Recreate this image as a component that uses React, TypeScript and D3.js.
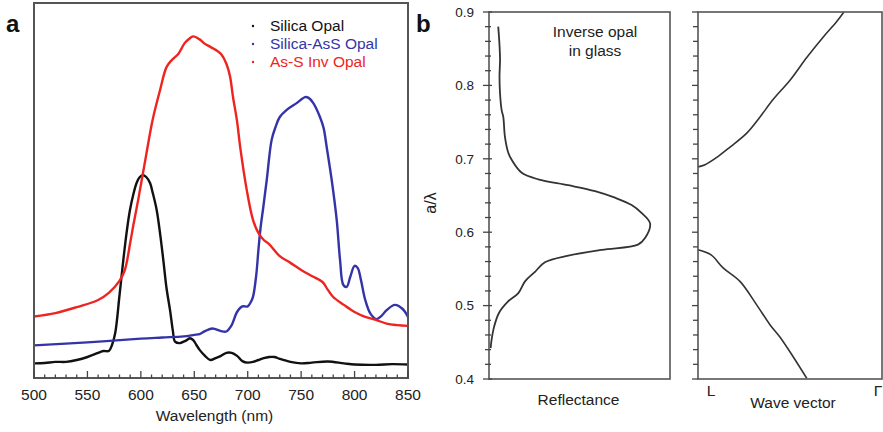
import React from "react";
import * as d3 from "d3";

// ---------- Panel a data (wavelength nm, intensity a.u.) ----------
const silicaOpalWl = [500, 510, 520, 530, 540, 550, 560, 565, 570, 573, 576, 580, 583.6, 587, 589.8, 593, 596, 599, 602, 605, 608.6, 611, 614.8, 618, 621, 624, 627.3, 630, 632, 636.6, 640, 643, 646, 649, 652, 655, 660, 665, 670, 675, 680, 685, 690, 695, 700, 705, 710, 715, 720, 725, 730, 740, 750, 760, 775, 790, 800, 820, 835, 850];
const silicaOpalI = [3.9, 4.0, 4.3, 4.3, 4.8, 5.6, 6.7, 7.2, 7.2, 8.8, 12.0, 22.0, 31.5, 39.5, 44.8, 49.0, 52.0, 53.6, 54.1, 53.6, 52.0, 49.5, 44.8, 38.5, 31.5, 24.0, 18.1, 12.5, 9.7, 9.3, 9.7, 10.1, 10.6, 10.1, 8.8, 7.5, 5.9, 4.8, 5.3, 5.9, 6.7, 6.7, 5.9, 4.5, 4.1, 4.3, 4.8, 5.3, 5.6, 5.6, 5.1, 4.3, 3.9, 4.1, 4.4, 3.9, 3.6, 3.5, 3.7, 3.6];

const silicaAsSWl = [500, 550, 600, 620, 640, 650, 655, 660, 667, 675, 680, 685, 690, 695, 700, 703, 705, 708, 710, 712, 714.6, 717.8, 722.4, 726, 730, 736.5, 745.8, 753.6, 757, 761.4, 767.6, 771, 773.9, 778.6, 783.3, 786.4, 789.5, 792.6, 796, 800, 803, 806, 810, 815, 820.7, 825, 830, 837.8, 845, 850];
const silicaAsSI = [8.7, 9.5, 10.5, 10.8, 11.1, 11.5, 11.7, 12.5, 13.2, 12.5, 12.4, 14.1, 17.6, 19.1, 19.1, 20.3, 21.7, 27.5, 34.1, 40.0, 45.6, 52.8, 63.5, 66.9, 69.6, 71.5, 73.3, 74.9, 74.7, 73.3, 69.6, 66.7, 61.6, 52.8, 42.1, 31.5, 24.8, 24.3, 27.0, 29.9, 29.3, 26.1, 20.8, 17.1, 15.7, 16.5, 18.1, 19.5, 18.4, 16.3];

const asSInvWl = [500, 520, 540, 560, 570, 580, 585, 590, 593, 597.5, 605, 611, 618, 624, 629, 635, 641, 645, 649, 655, 660, 665, 670, 675, 680, 683.4, 686.2, 690, 693, 699, 705, 710, 715, 720, 730, 740, 750, 760, 770, 775, 780, 790, 800, 810, 820, 830, 840, 850];
const asSInvI = [16.4, 17.3, 18.9, 20.8, 22.7, 25.9, 28.8, 36.0, 40.8, 47.5, 59.5, 68.8, 76.8, 82.9, 84.8, 86.4, 89.3, 90.4, 91.1, 90.3, 89.1, 88.3, 87.5, 86.4, 83.8, 80.5, 75.0, 68.5, 61.5, 50.3, 42.1, 38.7, 36.8, 35.7, 32.5, 30.7, 28.8, 27.2, 25.6, 23.5, 21.6, 19.5, 17.6, 16.3, 15.5, 14.5, 14.1, 13.9];

const seriesNames = ["Silica Opal", "Silica-AsS Opal", "As-S Inv Opal"];
const seriesColors = ["#111111", "#3434a8", "#ee2420"];
const xTicksA = [500, 550, 600, 650, 700, 750, 800, 850];

// ---------- Panel b data ----------
const reflR = [0.051, 0.058, 0.061, 0.058, 0.061, 0.070, 0.079, 0.088, 0.107, 0.127, 0.181, 0.272, 0.438, 0.586, 0.696, 0.788, 0.844, 0.890, 0.862, 0.823, 0.623, 0.438, 0.309, 0.254, 0.199, 0.162, 0.107, 0.055, 0.028, 0.014, 0.009];
const reflA = [0.880, 0.855, 0.835, 0.812, 0.789, 0.766, 0.757, 0.730, 0.708, 0.698, 0.681, 0.672, 0.664, 0.656, 0.647, 0.637, 0.626, 0.612, 0.592, 0.583, 0.576, 0.568, 0.559, 0.546, 0.533, 0.517, 0.506, 0.490, 0.471, 0.453, 0.442];

const upperK = [0.0, 0.038, 0.102, 0.174, 0.265, 0.337, 0.409, 0.5, 0.591, 0.681, 0.754, 0.793];
const upperA = [0.689, 0.692, 0.702, 0.716, 0.735, 0.757, 0.781, 0.807, 0.838, 0.866, 0.887, 0.900];
const lowerK = [0.0, 0.071, 0.138, 0.228, 0.319, 0.391, 0.446, 0.518, 0.591];
const lowerA = [0.576, 0.569, 0.551, 0.533, 0.501, 0.474, 0.457, 0.430, 0.401];

const yTicksB = [0.4, 0.5, 0.6, 0.7, 0.8, 0.9];

const FONT = "'Liberation Sans', Arial, Helvetica, sans-serif";

export default function App() {
  // Panel a scales
  const xA = d3.scaleLinear().domain([500, 850]).range([34, 408]);
  const yA = d3.scaleLinear().domain([0, 100]).range([378, 3]);
  const lineA = d3
    .line<[number, number]>()
    .x((d) => xA(d[0]))
    .y((d) => yA(d[1]))
    .curve(d3.curveCatmullRom.alpha(0.5));
  const zip = (a: number[], b: number[]) => a.map((v, i) => [v, b[i]] as [number, number]);
  const seriesA = [zip(silicaOpalWl, silicaOpalI), zip(silicaAsSWl, silicaAsSI), zip(asSInvWl, asSInvI)];
  const minorA = d3.range(500, 851, 10);

  // Panel b scales
  const yB = d3.scaleLinear().domain([0.4, 0.9]).range([379, 12]);
  const xRefl = d3.scaleLinear().domain([0, 1]).range([489, 670]);
  const xK = d3.scaleLinear().domain([0, 1]).range([698, 882]);
  const lineRefl = d3
    .line<[number, number]>()
    .x((d) => xRefl(d[0]))
    .y((d) => yB(d[1]))
    .curve(d3.curveCatmullRom.alpha(0.5));
  const lineK = d3
    .line<[number, number]>()
    .x((d) => xK(d[0]))
    .y((d) => yB(d[1]))
    .curve(d3.curveCatmullRom.alpha(0.5));
  const minorB = d3.range(0, 26).map((i) => 0.4 + i * 0.02);

  const textCol = "#222";

  return (
    <svg
      width={883}
      height={432}
      style={{ position: "absolute", left: 0, top: 0, background: "#fff" }}
      fontFamily={FONT}
    >
      <rect x={0} y={0} width={883} height={432} fill="#fff" />
      {/* Panel labels */}
      <text x={6} y={32} fontSize={24} fontWeight="bold" fill="#111">a</text>
      <text x={416} y={32} fontSize={24} fontWeight="bold" fill="#111">b</text>

      {/* ---------- Panel a ---------- */}
      <g>
        {seriesA.map((s, i) => (
          <path key={i} d={lineA(s) || ""} fill="none" stroke={seriesColors[i]} strokeWidth={2.4} strokeLinejoin="round" />
        ))}
        <rect x={34} y={3} width={374} height={375} fill="none" stroke="#555" strokeWidth={2} />
        {minorA.map((v) => {
          const major = (v - 500) % 50 === 0;
          return (
            <line key={v} x1={xA(v)} x2={xA(v)} y1={378} y2={major ? 371 : 374.5} stroke="#444" strokeWidth={1.3} />
          );
        })}
        {xTicksA.map((v) => (
          <text key={v} x={xA(v)} y={399.5} fontSize={15.5} textAnchor="middle" fill={textCol}>{v}</text>
        ))}
        <text x={214.5} y={421} fontSize={15.5} textAnchor="middle" fill={textCol}>Wavelength (nm)</text>
        {/* legend */}
        {seriesNames.map((n, i) => (
          <g key={n}>
            <circle cx={253} cy={26 + i * 18} r={1.2} fill={seriesColors[i]} />
            <text x={270} y={31 + i * 18} fontSize={15.5} fill={seriesColors[i]}>{n}</text>
          </g>
        ))}
      </g>

      {/* ---------- Panel b, reflectance ---------- */}
      <g>
        <path d={lineRefl(zip(reflR, reflA)) || ""} fill="none" stroke="#333" strokeWidth={1.8} strokeLinejoin="round" />
        <rect x={489} y={12} width={181} height={367} fill="none" stroke="#555" strokeWidth={1.6} />
        {minorB.map((v, i) => {
          const major = i % 5 === 0;
          return (
            <line key={i} x1={major ? 483 : 485} x2={major ? 492 : 491} y1={yB(v)} y2={yB(v)} stroke="#444" strokeWidth={1.3} />
          );
        })}
        {yTicksB.map((v) => (
          <text key={v} x={474} y={yB(v)} dy="0.35em" fontSize={13.5} textAnchor="end" fill={textCol}>{v.toFixed(1)}</text>
        ))}
        <text transform="translate(436,203) rotate(-90)" fontSize={16} textAnchor="middle" fill={textCol}>a/λ</text>
        <text x={595} y={37} fontSize={15.5} textAnchor="middle" fill={textCol}>Inverse opal</text>
        <text x={595} y={56} fontSize={15.5} textAnchor="middle" fill={textCol}>in glass</text>
        <text x={578.5} y={405} fontSize={15.5} textAnchor="middle" fill={textCol}>Reflectance</text>
      </g>

      {/* ---------- Panel b, band diagram ---------- */}
      <g>
        <path d={lineK(zip(upperK, upperA)) || ""} fill="none" stroke="#333" strokeWidth={1.6} />
        <path d={lineK(zip(lowerK, lowerA)) || ""} fill="none" stroke="#333" strokeWidth={1.6} />
        <rect x={698} y={12} width={184} height={367} fill="none" stroke="#555" strokeWidth={1.6} />
        {minorB.map((v, i) => {
          const major = i % 5 === 0;
          return (
            <line key={i} x1={major ? 692 : 693} x2={698} y1={yB(v)} y2={yB(v)} stroke="#444" strokeWidth={1.3} />
          );
        })}
        <text x={711} y={396} fontSize={15.5} textAnchor="middle" fill={textCol}>L</text>
        <text x={878} y={396} fontSize={15.5} textAnchor="middle" fill={textCol}>Γ</text>
        <text x={793} y={408} fontSize={15.5} textAnchor="middle" fill={textCol}>Wave vector</text>
      </g>
    </svg>
  );
}
